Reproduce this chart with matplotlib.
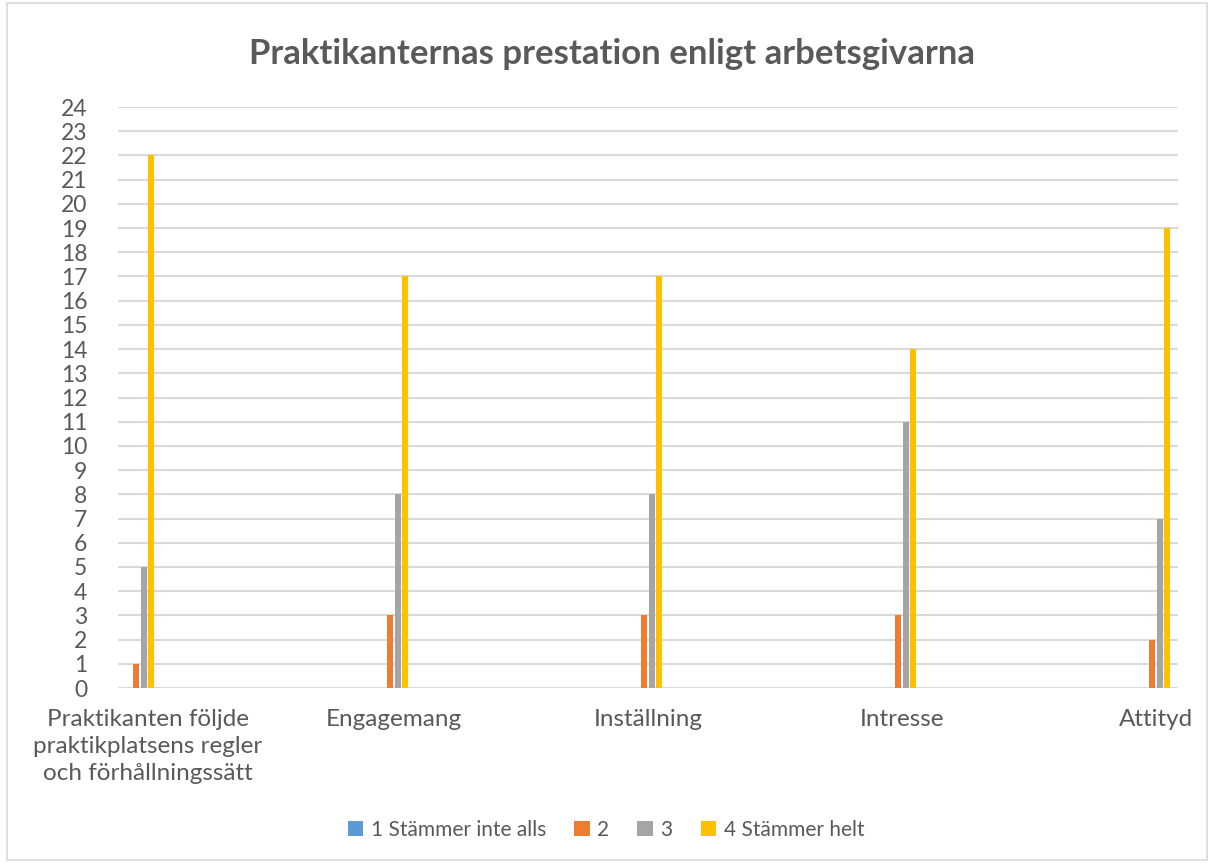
import matplotlib
matplotlib.use("Agg")
import matplotlib.pyplot as plt
from matplotlib.patches import Rectangle
import matplotlib.transforms as mtransforms
import numpy as np

categories = ["Praktikanten följde\npraktikplatsens regler\noch förhållningssätt",
              "Engagemang", "Inställning", "Intresse", "Attityd"]
series_names = ["1 Stämmer inte alls", "2", "3", "4 Stämmer helt"]
s1 = [0, 0, 0, 0, 0]
s2 = [1, 3, 3, 3, 2]
s3 = [5, 8, 8, 11, 7]
s4 = [22, 17, 17, 14, 19]
colors = ["#5B9BD5", "#ED7D31", "#A5A5A5", "#FFC000"]
yticks = list(range(0, 25))

plt.rcParams['font.family'] = ['Lato', 'DejaVu Sans']
txt = "#595959"

fig = plt.figure(figsize=(12.12, 8.63), dpi=100)
fig.patch.set_facecolor("white")
fig.add_artist(Rectangle((0.006, 0.003), 0.99, 0.994, transform=fig.transFigure,
                         fill=False, edgecolor="#D9D9D9", linewidth=1.2))

ax = fig.add_axes([118/1212, 1-688/863, (1178-118)/1212, (688-107)/863])
x = np.arange(len(categories))
w = 6/254
step = 7.6/254
for i, (vals, c, n) in enumerate(zip([s1, s2, s3, s4], colors, series_names)):
    ax.bar(x + (i-1.5)*step, vals, width=w, color=c, label=n, zorder=3)

ax.set_xlim(-22/254, 4+22/254)
ax.set_ylim(0, 24)
ax.set_yticks(yticks)
ax.set_yticklabels([str(v) for v in yticks], fontsize=16.5, color=txt)
ax.set_xticks(x)
ax.set_xticklabels(categories, fontsize=17.5, color=txt, linespacing=1.36)
ax.tick_params(axis='both', length=0)
ax.tick_params(axis='y', pad=22)
ax.tick_params(axis='x', pad=15)
ax.grid(axis='y', color="#D9D9D9", linewidth=1.5, zorder=0)
for s in ax.spines.values():
    s.set_visible(False)

first = ax.get_xticklabels()[0]
first.set_transform(first.get_transform() +
                    mtransforms.ScaledTranslation(8/100, 0, fig.dpi_scale_trans))

fig.text(0.505, 1-54/863, "Praktikanternas prestation enligt arbetsgivarna",
         ha='center', va='center', fontsize=25, fontweight='bold', color=txt)

leg = fig.legend(loc='center', bbox_to_anchor=(0.5, 1-830/863), ncol=4, frameon=False,
                 fontsize=15, handlelength=0.75, handleheight=0.75, handletextpad=0.35,
                 columnspacing=1.35, labelcolor=txt)

fig.savefig("out.png", dpi=100)
